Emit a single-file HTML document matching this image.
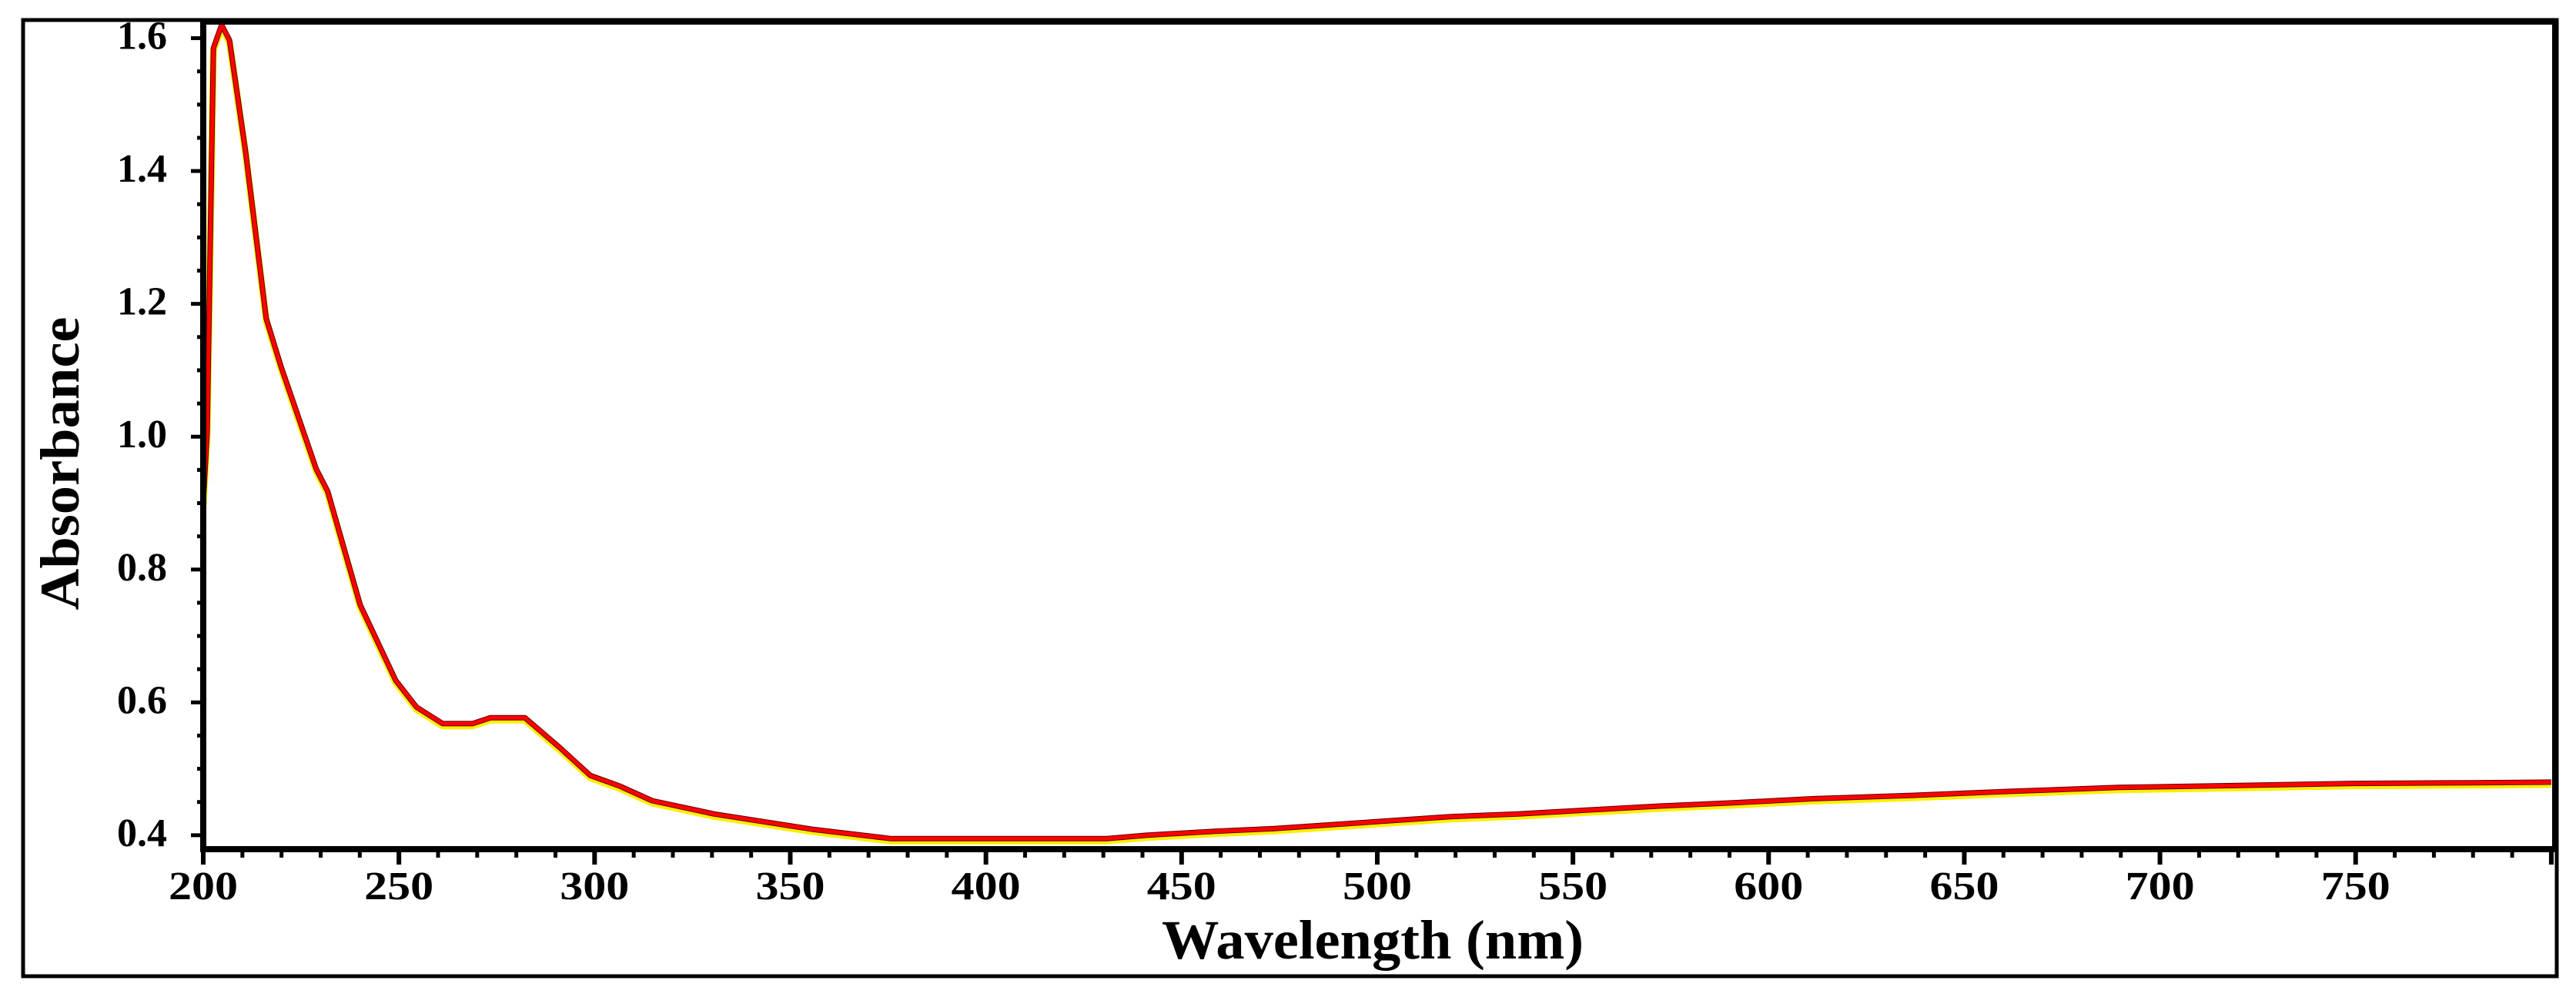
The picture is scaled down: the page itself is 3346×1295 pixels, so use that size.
<!DOCTYPE html>
<html><head><meta charset="utf-8"><style>
html,body{margin:0;padding:0;background:#fff;}
svg{display:block;}
text{font-family:"Liberation Serif",serif;font-weight:bold;fill:#000;}
</style></head><body>
<svg id="chart" width="3346" height="1295" viewBox="0 0 3346 1295" xmlns="http://www.w3.org/2000/svg">
<rect x="30" y="26" width="3291" height="1242" fill="none" stroke="#000" stroke-width="5"/>
<g id="plot"></g>
</svg>
<script>
const wavelengths=[200,201,202.6,204.7,206.7,210.8,216.1,219.9,228.9,231.8,240.1,249.2,254.5,261.2,268.8,273.4,282.2,291.3,298.9,306.4,314.7,330.6,355.6,375.6,431,441,458.5,473.6,488.6,503.7,518.7,536,553.9,572.5,591.4,611.5,636.7,661.6,689.4,720,750,780,800];
const absorbance=[0.9,1.007,1.585,1.62,1.597,1.43,1.178,1.105,0.951,0.918,0.747,0.633,0.593,0.568,0.568,0.577,0.577,0.531,0.49,0.474,0.452,0.432,0.409,0.395,0.395,0.40,0.406,0.41,0.416,0.422,0.428,0.432,0.438,0.444,0.449,0.455,0.46,0.466,0.472,0.475,0.478,0.479,0.48];
const xTicks=[200,250,300,350,400,450,500,550,600,650,700,750];
const yTicks=[0.4,0.6,0.8,1.0,1.2,1.4,1.6];
const yTickLabels=["0.4","0.6","0.8","1.0","1.2","1.4","1.6"];

const NS="http://www.w3.org/2000/svg";
const L=264,R=3319,T=28,B=1103;
const xMin=200,xMax=801,yMin=0.379,yMax=1.625;
const xs=v=>L+(v-xMin)/(xMax-xMin)*(R-L);
const ys=v=>B-(v-yMin)/(yMax-yMin)*(B-T);
const g=document.getElementById('plot');
function mk(tag,attrs){const e=document.createElementNS(NS,tag);for(const k in attrs)e.setAttribute(k,attrs[k]);g.appendChild(e);return e;}

const pts=wavelengths.map((w,i)=>xs(w).toFixed(1)+','+ys(absorbance[i]).toFixed(1)).join(' ');
const glow=mk('polyline',{points:pts,fill:'none',stroke:'#ffee00','stroke-width':9,'stroke-linejoin':'round',transform:'translate(0,3)'});


const dark=mk('polyline',{points:pts,fill:'none',stroke:'#5a0000','stroke-width':7,'stroke-linejoin':'round'});


const line=mk('polyline',{points:pts,fill:'none',stroke:'#ff0000','stroke-width':5,'stroke-linejoin':'round'});



const ax=mk('path',{d:`M${L},${T} L${L},${B} L${R},${B} L${R},${T} L${L},${T}`,fill:'none',stroke:'#000','stroke-width':8});



for(let v=200;v<=800;v+=10){
  const major=(v%50===0);
  const t=mk('line',{x1:xs(v),x2:xs(v),y1:B,y2:B+(major?20:11),stroke:'#000','stroke-width':major?6:5});
  
  
}
xTicks.forEach(v=>{
  const t=mk('text',{x:xs(v),y:1168,'text-anchor':'middle','font-size':52,textLength:90,lengthAdjust:'spacingAndGlyphs'});
  t.textContent=String(v);
  
  
});
for(let i=0;i<=24;i++){
  const v=0.4+i*0.05;
  if(v>1.62)break;
  const major=(i%4===0);
  const t=mk('line',{x1:L-(major?16:8),x2:L,y1:ys(v),y2:ys(v),stroke:'#000','stroke-width':5});
  
  
}
yTicks.forEach((v,i)=>{
  const t=mk('text',{x:217,y:ys(v)+14,'text-anchor':'end','font-size':52});
  t.textContent=yTickLabels[i];
  
  
});
const xt=mk('text',{x:1783,y:1245,'text-anchor':'middle','font-size':72,textLength:548,lengthAdjust:'spacingAndGlyphs'});
xt.textContent='Wavelength (nm)';


const yt=mk('text',{x:0,y:0,'text-anchor':'middle','font-size':72,textLength:381,lengthAdjust:'spacingAndGlyphs',transform:'translate(102,602) rotate(-90)'});
yt.textContent='Absorbance';


</script>
</body></html>
